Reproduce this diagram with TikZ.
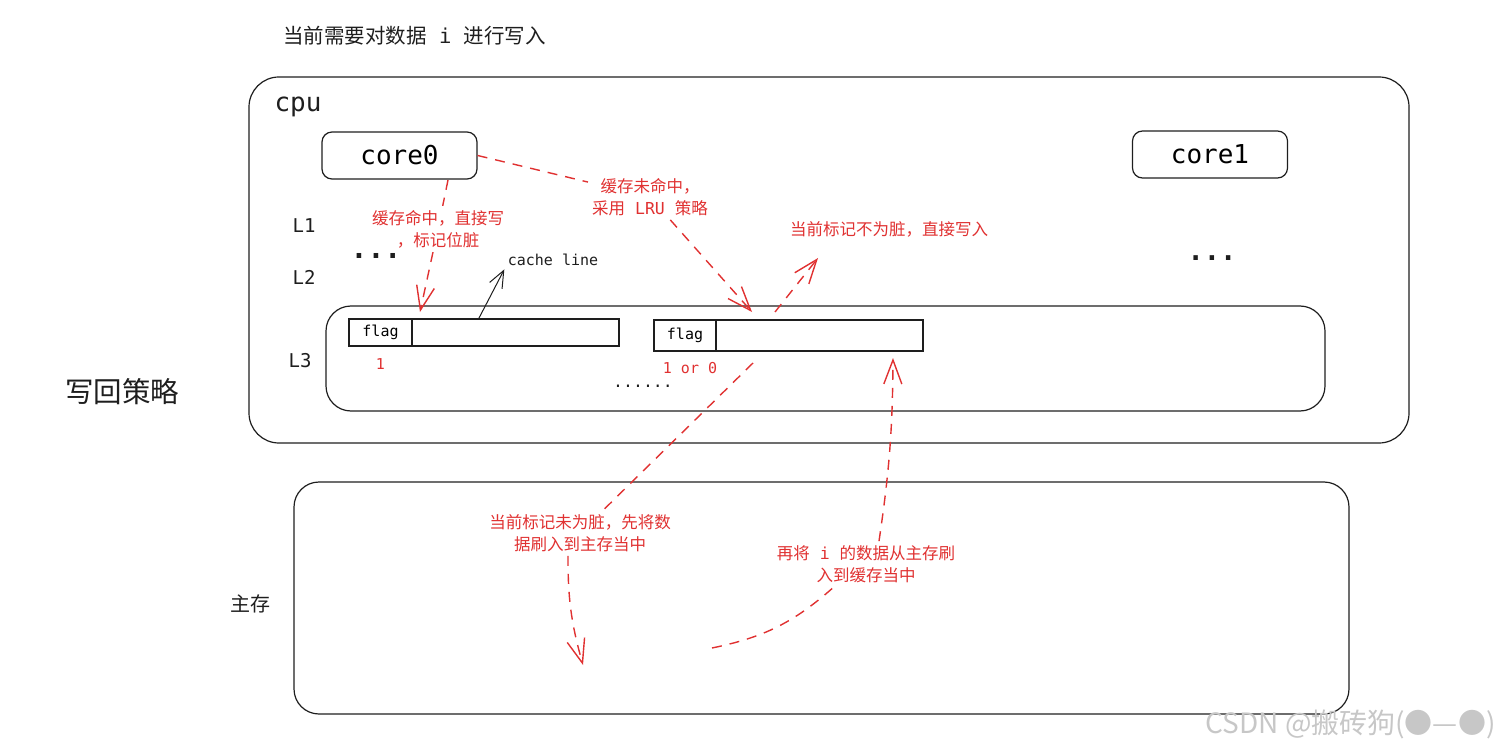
\documentclass[tikz,border=0pt]{standalone}
\usepackage{fontspec}
\usetikzlibrary{positioning,arrows.meta}
\newfontfamily\cjk{Noto Sans CJK SC}
\newfontfamily\mono{DejaVu Sans Mono}
\definecolor{inkred}{HTML}{E03131}
\definecolor{ink}{HTML}{1E1E1E}
\begin{document}
\begin{tikzpicture}[x=1pt,y=-1pt,
    box/.style={draw=ink,line width=1.2pt},
    corebox/.style={box,rounded corners=10pt,minimum width=155pt,minimum height=47pt,
      font=\mono\fontsize{26}{30}\selectfont},
    cell/.style={box,inner sep=0pt,outer sep=0pt,minimum height=#1,
      font=\mono\fontsize{15}{18}\selectfont},
    lvl/.style={text=ink,font=\mono\fontsize{19}{22}\selectfont},
    redlbl/.style={text=inkred,font=\cjk\fontsize{16.5}{22}\selectfont,align=center,inner sep=4pt},
    flagval/.style={text=inkred,font=\mono\fontsize{15}{18}\selectfont},
    redline/.style={draw=inkred,line width=1.4pt,dash pattern=on 10pt off 8pt},
    redhead/.style={-{Straight Barb[length=24pt,width=18pt,line width=1.4pt]}}
  ]
  \useasboundingbox (0,0) rectangle (1507,751);

  % Titolo
  \node[anchor=base west,inner sep=0pt,text=ink,font=\cjk\fontsize{20.5}{24}\selectfont]
    (title) at (283,44) {当前需要对数据{\mono\ i\ }进行写入};
  \node[text=ink,font=\cjk\fontsize{28.5}{32}\selectfont] (policy) at (122,392) {写回策略};

  % CPU
  \draw[box,rounded corners=30pt] (249,77) rectangle (1409,443);
  \node[text=ink,font=\mono\fontsize{26}{30}\selectfont] (cpulbl) at (298,107) {cpu};
  \node[corebox] (core0) at (399.5,155.5) {core0};
  \node[corebox] (core1) at (1210,154.5) {core1};

  % Livelli
  \node[lvl] (l1) at (304,226) {L1};
  \node[lvl] (l2) at (304,277) {L2};
  \node[lvl] (l3) at (300,361) {L3};
  \node[anchor=base,text=ink,font=\bfseries\mono\fontsize{28}{30}\selectfont] (dots0) at (376,259) {...};
  \node[anchor=base,text=ink,font=\bfseries\mono\fontsize{27}{30}\selectfont] (dots1) at (1212,261) {...};

  % Cache L3
  \draw[box,rounded corners=25pt] (326,306) rectangle (1325,411);
  \node[cell=27pt,minimum width=63pt] (flag1) at (380.5,332.5) {flag};
  \node[cell=27pt,minimum width=207pt,right=0pt of flag1] (data1) {};
  \node[cell=31pt,minimum width=62pt] (flag2) at (685,335.5) {flag};
  \node[cell=31pt,minimum width=207pt,right=0pt of flag2] (data2) {};
  \node[flagval,below=9pt of flag1] (val1) {1};
  \node[flagval,below=8pt of flag2,xshift=5pt] (val2) {1 or 0};
  \node[anchor=base,text=ink,font=\mono\fontsize{16.5}{20}\selectfont] (dots2) at (643,387) {......};
  \node[text=ink,font=\mono\fontsize{15}{18}\selectfont] (cllbl) at (553,260) {cache line};
  \draw[draw=ink,line width=1pt,-{Straight Barb[length=17pt,width=14pt,line width=1pt]}]
    ([xshift=-37pt]data1.north) -- (cllbl.south west);

  % Memoria principale
  \draw[box,rounded corners=25pt] (294,482) rectangle (1349,714);
  \node[text=ink,font=\cjk\fontsize{20}{24}\selectfont] (mem) at (250,604) {主存};

  % Cache hit
  \coordinate (hitfrom) at (448,180);
  \coordinate (hitto) at (420,312);
  \node[redlbl] (hitlbl) at (438,229) {缓存命中，直接写\\，标记位脏};
  \draw[redline] (hitfrom) -- (hitlbl);
  \draw[redline,redhead] (hitlbl) -- (hitto);

  % Cache miss (LRU)
  \coordinate (missto) at (752,312);
  \node[redlbl] (misslbl) at (650,197) {缓存未命中，\\采用{\mono\ LRU\ }策略};
  \draw[redline] (core0.east) -- (misslbl);
  \draw[redline,redhead] (misslbl) -- (missto);

  % Non sporco
  \coordinate (cleanfrom) at (775,312);
  \coordinate (cleanto) at (818,258);
  \node[redlbl] (cleanlbl) at (889,229) {当前标记不为脏，直接写入};
  \draw[redline,redhead] (cleanfrom) -- (cleanto);

  % Flush in memoria
  \coordinate (flushfrom) at (753,363);
  \coordinate (flushto) at (583,665);
  \node[redlbl] (flushlbl) at (580,533) {当前标记未为脏，先将数\\据刷入到主存当中};
  \draw[redline] (flushfrom) -- (flushlbl);
  \draw[redline,redhead] ([xshift=-12pt]flushlbl.south) to[bend right=8] (flushto);

  % Caricamento in cache
  \coordinate (loadfrom) at (712,648);
  \coordinate (loadto) at (893,358);
  \node[redlbl] (loadlbl) at (866,564) {再将{\mono\ i\ }的数据从主存刷\\入到缓存当中};
  \draw[redline] (loadfrom) to[bend right=15] ([xshift=-32pt]loadlbl.south);
  \draw[redline,redhead] ([xshift=13pt]loadlbl.north) to[bend right=4] (loadto);

  % Filigrana
  \node[anchor=east,text=black!22,font=\cjk\fontsize{28}{30}\selectfont] (mark) at (1499,724)
    {CSDN @搬砖狗(●—●)};
\end{tikzpicture}
\end{document}
